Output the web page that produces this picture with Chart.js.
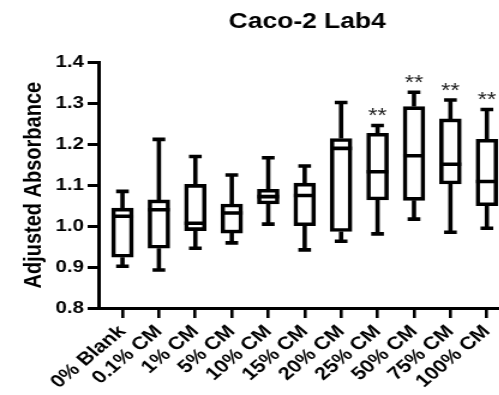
<!DOCTYPE html>
<html>
<head>
<meta charset="utf-8">
<script src="https://cdn.jsdelivr.net/npm/chart.js@4/dist/chart.umd.min.js"></script>
<style>
  html, body { margin: 0; padding: 0; background: #fff; overflow: hidden; }
  /* graph is exported a bit wider than tall, so stretch it sideways */
  #wrap { width: 430px; height: 395px; transform: scaleX(1.2); transform-origin: 0 0; }
</style>
</head>
<body>
<div id="wrap"><canvas id="boxChart"></canvas></div>
<script>
// groups and box plot summary values (adjusted absorbance)
var groups = ['0% Blank', '0.1% CM', '1% CM', '5% CM', '10% CM', '15% CM', '20% CM', '25% CM', '50% CM', '75% CM', '100% CM'];
var mins    = [0.902, 0.893, 0.946, 0.959, 1.005, 0.942, 0.963, 0.981, 1.017, 0.985, 0.995];
var q1s     = [0.924, 0.946, 0.989, 0.983, 1.054, 1.001, 0.987, 1.064, 1.063, 1.103, 1.050];
var medians = [1.024, 1.040, 1.007, 1.032, 1.072, 1.075, 1.190, 1.133, 1.172, 1.151, 1.109];
var q3s     = [1.044, 1.064, 1.102, 1.054, 1.090, 1.105, 1.214, 1.227, 1.292, 1.262, 1.212];
var maxs    = [1.085, 1.212, 1.170, 1.125, 1.167, 1.147, 1.302, 1.246, 1.327, 1.308, 1.285];
var stars   = ['', '', '', '', '', '', '', '**', '**', '**', '**'];
var yTicks  = [0.8, 0.9, 1.0, 1.1, 1.2, 1.3, 1.4];

var font = "Arial, 'Liberation Sans', sans-serif";
var lw = 3.6;

// whiskers, caps, medians and significance stars
var boxExtras = {
  id: 'boxExtras',
  afterDatasetsDraw: function(chart) {
    var ctx = chart.ctx;
    var xs = chart.scales.x, ys = chart.scales.y;
    ctx.save();
    ctx.strokeStyle = '#000';
    ctx.lineWidth = lw;
    ctx.lineCap = 'butt';
    groups.forEach(function(g, i) {
      var x = xs.getPixelForValue(i);
      var yMin = ys.getPixelForValue(mins[i]);
      var yMax = ys.getPixelForValue(maxs[i]);
      var yQ1 = ys.getPixelForValue(q1s[i]);
      var yQ3 = ys.getPixelForValue(q3s[i]);
      var yMed = ys.getPixelForValue(medians[i]);
      ctx.beginPath();
      ctx.moveTo(x, yQ3); ctx.lineTo(x, yMax);
      ctx.moveTo(x, yQ1); ctx.lineTo(x, yMin);
      ctx.moveTo(x - 5.3, yMax); ctx.lineTo(x + 5.3, yMax);
      ctx.moveTo(x - 5.3, yMin); ctx.lineTo(x + 5.3, yMin);
      ctx.moveTo(x - 9, yMed); ctx.lineTo(x + 9, yMed);
      ctx.stroke();
      if (stars[i]) {
        ctx.fillStyle = '#222';
        ctx.font = '20px ' + font;
        ctx.textAlign = 'center';
        ctx.textBaseline = 'alphabetic';
        ctx.fillText(stars[i], x, yMax - 3);
      }
    });
    ctx.restore();
  }
};

new Chart(document.getElementById('boxChart'), {
  type: 'bar',
  data: {
    datasets: [{
      label: 'Adjusted Absorbance',
      data: groups.map(function(g, i) { return { x: i, y: [q1s[i], q3s[i]] }; }),
      backgroundColor: '#fff',
      borderColor: '#000',
      borderWidth: lw,
      borderSkipped: false,
      barThickness: 18
    }]
  },
  plugins: [boxExtras],
  options: {
    responsive: true,
    maintainAspectRatio: false,
    animation: false,
    layout: { padding: 0 },
    plugins: {
      legend: { display: false },
      tooltip: { enabled: false },
      title: {
        display: true,
        text: 'Caco-2 Lab4',
        fullSize: false,
        color: '#000',
        font: { family: font, size: 22, weight: 'bold' },
        padding: { top: 9, bottom: 27 }
      }
    },
    scales: {
      x: {
        type: 'linear',
        offset: false,
        min: -0.66,
        max: 10.8,
        afterBuildTicks: function(scale) {
          scale.ticks = groups.map(function(g, i) { return { value: i }; });
        },
        afterFit: function(scale) {
          scale.height = 87;
          scale.paddingLeft = 0;
          scale.paddingRight = 0;
        },
        border: { display: true, color: '#000', width: 3 },
        grid: { display: true, offset: false, drawOnChartArea: false, color: '#000', lineWidth: 2.6, tickLength: 10 },
        ticks: {
          autoSkip: false,
          minRotation: 45,
          maxRotation: 45,
          padding: 3,
          color: '#000',
          font: { family: font, size: 18, weight: 'bold' },
          callback: function(v) { return groups[v]; }
        }
      },
      y: {
        min: 0.8,
        max: 1.4,
        afterBuildTicks: function(scale) {
          scale.ticks = yTicks.map(function(v) { return { value: v }; });
        },
        afterFit: function(scale) { scale.width = 82; },
        border: { display: true, color: '#000', width: 3 },
        grid: { display: true, drawOnChartArea: false, color: '#000', lineWidth: 3, tickLength: 9 },
        ticks: {
          padding: 3,
          color: '#000',
          font: { family: font, size: 17, weight: 'bold' },
          callback: function(v) { return v.toFixed(1); }
        },
        title: {
          display: true,
          text: 'Adjusted Absorbance',
          color: '#000',
          font: { family: font, size: 20, weight: 'bold' },
          padding: { top: 16, bottom: 0 }
        }
      }
    }
  }
});
</script>
</body>
</html>
